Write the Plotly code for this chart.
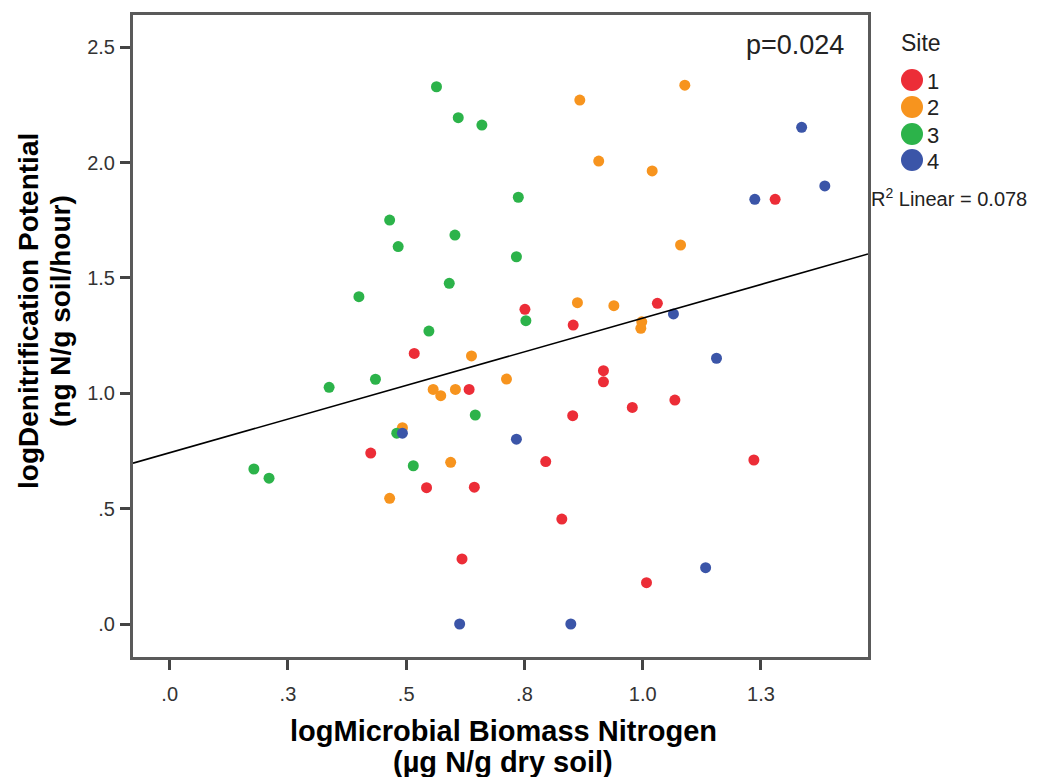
import numpy as np
import plotly.graph_objects as go

# ---------------- data ----------------
site1_x = [0.517, 0.751, 0.853, 0.633, 0.852, 0.425, 0.795, 0.543, 0.644, 0.829,
           0.618, 1.031, 0.917, 0.917, 0.978, 1.068, 1.235, 1.008, 1.280]
site1_y = [1.173, 1.364, 1.296, 1.017, 0.903, 0.741, 0.704, 0.591, 0.593, 0.455,
           0.282, 1.390, 1.098, 1.050, 0.939, 0.971, 0.711, 0.179, 1.841]

site2_x = [0.638, 0.712, 0.862, 0.557, 0.573, 0.604, 0.492, 0.594, 0.465, 0.939,
           0.998, 0.996, 1.089, 0.867, 0.907, 1.020, 1.080]
site2_y = [1.162, 1.062, 1.393, 1.017, 0.990, 1.017, 0.851, 0.701, 0.545, 1.380,
           1.310, 1.282, 2.336, 2.271, 2.007, 1.964, 1.643]

site3_x = [0.337, 0.435, 0.548, 0.753, 0.646, 0.480, 0.515, 0.178, 0.210, 0.564,
           0.610, 0.660, 0.465, 0.603, 0.483, 0.591, 0.400, 0.737, 0.733]
site3_y = [1.026, 1.061, 1.270, 1.315, 0.906, 0.827, 0.686, 0.672, 0.632, 2.329,
           2.195, 2.163, 1.751, 1.686, 1.636, 1.477, 1.419, 1.850, 1.592]

site4_x = [0.492, 0.733, 0.613, 0.848, 1.065, 1.156, 1.133, 1.336, 1.237, 1.385]
site4_y = [0.827, 0.801, 0.000, 0.000, 1.344, 1.152, 0.244, 2.153, 1.841, 1.899]

site_names = ["1", "2", "3", "4"]
site_colors = ["#EC2D37", "#F7941E", "#2CB34A", "#3B55A8"]

x_ticks = [0, 0.25, 0.5, 0.75, 1.0, 1.25]
x_ticktext = [".0", ".3", ".5", ".8", "1.0", "1.3"]
y_ticks = [0, 0.5, 1.0, 1.5, 2.0, 2.5]
y_ticktext = [".0", ".5", "1.0", "1.5", "2.0", "2.5"]

r2_text = "R<sup>2</sup> Linear = 0.078"
p_text = "p=0.024"

# ---------------- figure ----------------
X_RANGE = [-0.0776, 1.4763]
Y_RANGE = [-0.143, 2.640]
FONT = "Liberation Sans, Arial, sans-serif"

fig = go.Figure()
series = [(site1_x, site1_y), (site2_x, site2_y), (site3_x, site3_y), (site4_x, site4_y)]
for (xs, ys), nm, col in zip(series, site_names, site_colors):
    fig.add_trace(go.Scatter(x=xs, y=ys, mode="markers", name=nm,
                             marker=dict(size=11, color=col, line=dict(width=0)),
                             showlegend=False))

all_x = np.concatenate([np.array(s[0]) for s in series])
all_y = np.concatenate([np.array(s[1]) for s in series])
slope, intercept = np.polyfit(all_x, all_y, 1)
fx = np.array(X_RANGE)
fig.add_trace(go.Scatter(x=fx, y=intercept + slope * fx, mode="lines",
                         line=dict(color="black", width=1.6),
                         showlegend=False, hoverinfo="skip"))

axis_common = dict(showline=True, linecolor="#5a5a5a", linewidth=3, mirror=True,
                   ticks="outside", ticklen=10, tickwidth=2.5, tickcolor="#444",
                   showgrid=False, zeroline=False,
                   tickfont=dict(family=FONT, size=20, color="#333"))

fig.update_xaxes(range=X_RANGE, tickvals=x_ticks, ticktext=x_ticktext,
                 ticklabelstandoff=7, **axis_common)
fig.update_yaxes(range=Y_RANGE, tickvals=y_ticks, ticktext=y_ticktext,
                 ticklabelstandoff=1, **axis_common)

L, R, T, B = 133, 174, 15, 120
W, H = 1042, 777
pw, ph = W - L - R, H - T - B

def px_x(px):
    return (px - L) / pw

def px_y(py):
    return (H - B - py) / ph

annotations = []
# axis titles
annotations.append(dict(text="<b>logMicrobial Biomass Nitrogen</b>", xref="paper", yref="paper",
                        x=px_x(503), y=px_y(731), showarrow=False, xanchor="center", yanchor="middle",
                        font=dict(family=FONT, size=29, color="black")))
annotations.append(dict(text="<b>(µg N/g dry soil)</b>", xref="paper", yref="paper",
                        x=px_x(503), y=px_y(762), showarrow=False, xanchor="center", yanchor="middle",
                        font=dict(family=FONT, size=29, color="black")))
annotations.append(dict(text="<b>logDenitrification Potential</b>", xref="paper", yref="paper",
                        x=px_x(28), y=px_y(311), showarrow=False, xanchor="center", yanchor="middle",
                        textangle=-90, font=dict(family=FONT, size=28, color="black")))
annotations.append(dict(text="<b>(ng N/g soil/hour)</b>", xref="paper", yref="paper",
                        x=px_x(60), y=px_y(311), showarrow=False, xanchor="center", yanchor="middle",
                        textangle=-90, font=dict(family=FONT, size=28, color="black")))
# p value
annotations.append(dict(text=p_text, xref="paper", yref="paper", x=px_x(846), y=px_y(45),
                        showarrow=False, xanchor="right", yanchor="middle",
                        font=dict(family=FONT, size=27, color="#222")))
# R2 label
annotations.append(dict(text=r2_text, xref="paper", yref="paper", x=px_x(869), y=px_y(198),
                        showarrow=False, xanchor="left", yanchor="middle",
                        font=dict(family=FONT, size=20, color="#222")))
# legend title
annotations.append(dict(text="Site", xref="paper", yref="paper", x=px_x(899), y=px_y(43),
                        showarrow=False, xanchor="left", yanchor="middle",
                        font=dict(family=FONT, size=23, color="#222")))

shapes = []
legend_y = [80, 107, 134, 160]
for nm, col, ly in zip(site_names, site_colors, legend_y):
    shapes.append(dict(type="circle", xref="paper", yref="paper",
                       xsizemode="pixel", ysizemode="pixel",
                       xanchor=px_x(912), yanchor=px_y(ly),
                       x0=-11, x1=11, y0=-11, y1=11,
                       fillcolor=col, line=dict(width=0)))
    annotations.append(dict(text=nm, xref="paper", yref="paper", x=px_x(925), y=px_y(ly + 1),
                            showarrow=False, xanchor="left", yanchor="middle",
                            font=dict(family=FONT, size=22, color="#222")))

fig.update_layout(width=W, height=H, margin=dict(l=L, r=R, t=T, b=B),
                  plot_bgcolor="white", paper_bgcolor="white",
                  annotations=annotations, shapes=shapes, showlegend=False)

fig.write_html("out.html")
